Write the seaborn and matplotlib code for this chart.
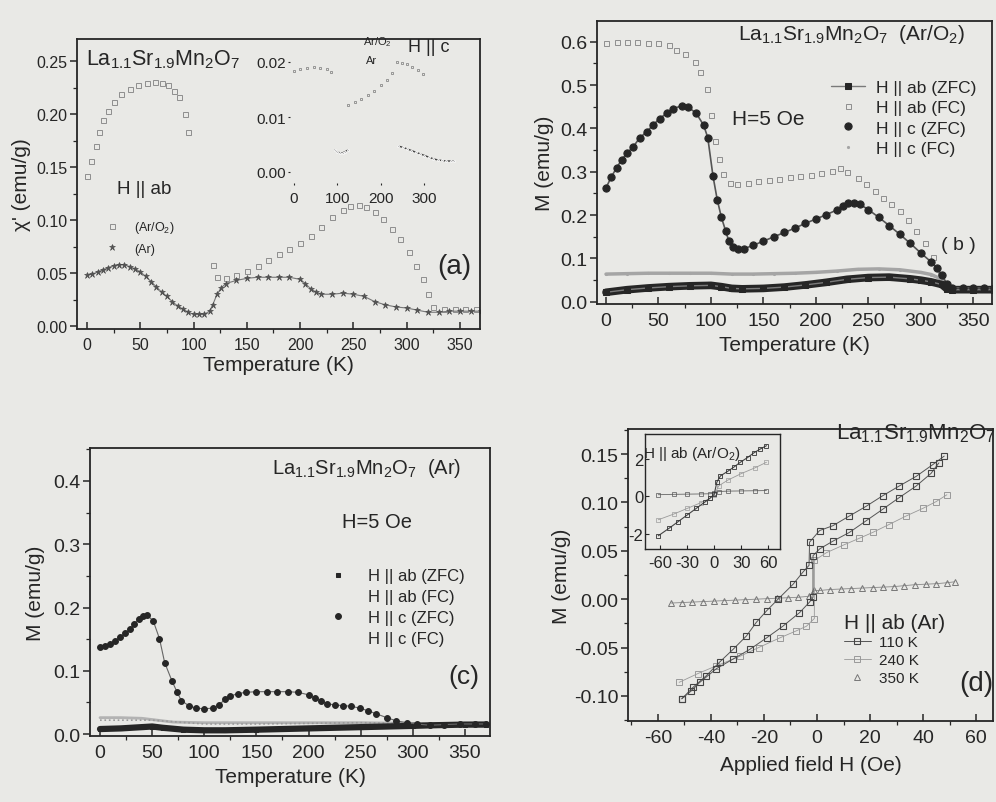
import numpy as np
import matplotlib
matplotlib.use('Agg')
import matplotlib.pyplot as plt
import seaborn as sns
from matplotlib.ticker import MultipleLocator, FormatStrFormatter

sns.set_theme(style='ticks')
plt.rcParams['font.family'] = ['Liberation Sans', 'DejaVu Sans']
plt.rcParams['mathtext.fontset'] = 'custom'
plt.rcParams['mathtext.rm'] = 'Liberation Sans'
plt.rcParams['mathtext.it'] = 'Liberation Sans:italic'
plt.rcParams['axes.unicode_minus'] = False

BG = '#e9e9e6'
INK = '#262626'
LIGHT = '#9c9c9c'
FORM = r'$\mathregular{La_{1.1}Sr_{1.9}Mn_2O_7}$'

# ---------------- panel (a): chi' vs T, H || ab ----------------
Ta_o2 = [0, 4, 8, 11, 15, 20, 25, 32, 40, 48, 56, 64, 70, 76, 82, 86, 92, 95,
         118, 122, 130, 140, 150, 160, 170, 180, 190, 200, 210, 220, 230, 240, 247,
         255, 262, 270, 278, 286, 294, 302, 309, 315, 320, 325, 335, 345, 355, 365]
chi_o2 = [0.142, 0.156, 0.170, 0.183, 0.194, 0.203, 0.211, 0.219, 0.224, 0.227, 0.229, 0.230,
          0.229, 0.227, 0.222, 0.216, 0.200, 0.183,
          0.058, 0.046, 0.045, 0.048, 0.052, 0.057, 0.062, 0.068, 0.073, 0.078, 0.085, 0.093,
          0.103, 0.109, 0.113, 0.114, 0.112, 0.108, 0.101, 0.092, 0.082, 0.070, 0.057, 0.044,
          0.030, 0.018, 0.016, 0.016, 0.016, 0.016]
Ta_ar = [0, 5, 10, 15, 20, 25, 30, 35, 40, 45, 50, 55, 60, 65, 70, 75, 80, 85, 90, 95, 100,
         105, 110, 115, 118, 122, 126, 130, 140, 150, 160, 170, 180, 190, 200, 205, 210, 215,
         220, 230, 240, 250, 260, 270, 280, 290, 300, 310, 320, 330, 340, 350, 360, 370]
chi_ar = [0.048, 0.049, 0.051, 0.053, 0.055, 0.057, 0.058, 0.058, 0.056, 0.054, 0.051, 0.047,
          0.042, 0.037, 0.032, 0.028, 0.023, 0.019, 0.016, 0.013, 0.011, 0.011, 0.011, 0.014,
          0.020, 0.030, 0.036, 0.040, 0.043, 0.045, 0.046, 0.046, 0.046, 0.046, 0.044, 0.040,
          0.035, 0.032, 0.030, 0.030, 0.031, 0.030, 0.028, 0.023, 0.020, 0.018, 0.017, 0.015,
          0.013, 0.013, 0.014, 0.014, 0.014, 0.014]
# inset (a): H || c
Ti_o2 = [0, 15, 30, 45, 60, 75, 85, 125, 140, 155, 170, 185, 200, 213, 225,
         236, 248, 260, 272, 284, 296]
chi_i_o2 = [0.0183, 0.0188, 0.0190, 0.0191, 0.0190, 0.0187, 0.0182, 0.0122, 0.0127, 0.0133,
            0.0140, 0.0148, 0.0158, 0.0168, 0.0180, 0.0200, 0.0199, 0.0196, 0.0191, 0.0186, 0.0178]
Ti_ar_low = [94, 100, 106, 112, 118, 124]
chi_i_ar_low = [0.0040, 0.0036, 0.0035, 0.0035, 0.0037, 0.0040]
Ti_ar_high = [240, 250, 260, 270, 280, 290, 300, 310, 320, 330, 340, 350, 360, 368]
chi_i_ar_high = [0.0047, 0.0045, 0.0042, 0.0039, 0.0036, 0.0033, 0.0030, 0.0027, 0.0024,
                 0.0022, 0.0021, 0.0020, 0.0020, 0.0020]

# ---------------- panel (b): M vs T, Ar/O2 ----------------
Tb_cz = [0, 5, 10, 15, 20, 26, 32, 39, 45, 51, 58, 64, 72, 78, 86, 93, 97, 102, 106, 110, 114,
         117, 121, 126, 132, 140, 150, 160, 170, 180, 190, 200, 210, 220, 226, 231, 236, 242,
         250, 260, 270, 280, 290, 300, 310, 316, 320, 325, 330, 340, 350, 360, 370]
Mb_cz = [0.263, 0.288, 0.309, 0.328, 0.343, 0.358, 0.378, 0.393, 0.408, 0.423, 0.435, 0.446,
         0.452, 0.450, 0.435, 0.408, 0.379, 0.290, 0.236, 0.195, 0.164, 0.141, 0.126, 0.122,
         0.123, 0.130, 0.140, 0.150, 0.160, 0.170, 0.181, 0.191, 0.201, 0.212, 0.220, 0.228,
         0.229, 0.225, 0.213, 0.195, 0.176, 0.156, 0.135, 0.113, 0.092, 0.077, 0.062, 0.042,
         0.033, 0.032, 0.032, 0.032, 0.032]
Tb_af = [0, 10, 20, 30, 40, 50, 60, 67, 75, 85, 90, 96, 100, 104, 108, 112, 118, 125, 135, 145,
         155, 165, 175, 185, 195, 205, 215, 223, 230, 240, 248, 256, 264, 272, 280, 288, 296,
         304, 312, 318, 325, 335, 345, 355, 365]
Mb_af = [0.598, 0.599, 0.599, 0.599, 0.598, 0.597, 0.592, 0.580, 0.572, 0.553, 0.530, 0.490,
         0.430, 0.370, 0.330, 0.294, 0.275, 0.272, 0.275, 0.278, 0.281, 0.284, 0.287, 0.290,
         0.293, 0.297, 0.302, 0.309, 0.300, 0.285, 0.271, 0.256, 0.240, 0.225, 0.210, 0.188,
         0.164, 0.135, 0.103, 0.065, 0.035, 0.033, 0.033, 0.033, 0.033]
Tb_az = [0, 20, 40, 60, 80, 100, 110, 120, 130, 150, 170, 190, 210, 230, 250, 270, 290, 300,
         310, 320, 325, 330, 350, 370]
Mb_az = [0.022, 0.028, 0.032, 0.035, 0.037, 0.038, 0.035, 0.031, 0.030, 0.031, 0.034, 0.039,
         0.045, 0.052, 0.056, 0.057, 0.053, 0.050, 0.046, 0.040, 0.030, 0.028, 0.028, 0.028]
Tb_cf = [0, 20, 40, 60, 80, 100, 120, 140, 160, 180, 200, 220, 240, 260, 280, 300, 310, 320,
         325, 330, 350, 370]
Mb_cf = [0.064, 0.065, 0.066, 0.066, 0.066, 0.066, 0.064, 0.064, 0.065, 0.066, 0.068, 0.071,
         0.075, 0.076, 0.074, 0.068, 0.063, 0.052, 0.038, 0.033, 0.033, 0.033]

# ---------------- panel (c): M vs T, Ar ----------------
Tc_cz = [0, 5, 10, 14, 19, 24, 29, 33, 37, 41, 45, 51, 57, 62, 69, 74, 78, 85, 92, 100, 108,
         114, 120, 125, 132, 140, 150, 160, 170, 180, 190, 200, 206, 212, 218, 225, 233, 241,
         249, 257, 265, 275, 284, 294, 304, 316, 330, 345, 360, 370]
Mc_cz = [0.137, 0.139, 0.142, 0.147, 0.153, 0.159, 0.166, 0.174, 0.182, 0.186, 0.188, 0.179,
         0.151, 0.113, 0.084, 0.066, 0.053, 0.045, 0.041, 0.040, 0.041, 0.046, 0.055, 0.060,
         0.064, 0.066, 0.067, 0.067, 0.067, 0.067, 0.066, 0.062, 0.057, 0.052, 0.048, 0.046,
         0.045, 0.044, 0.041, 0.037, 0.032, 0.026, 0.021, 0.018, 0.016, 0.014, 0.015, 0.016,
         0.016, 0.016]
Tc_az = [0, 20, 40, 50, 60, 80, 100, 120, 150, 200, 250, 300, 320, 350, 370]
Mc_az = [0.008, 0.009, 0.011, 0.012, 0.010, 0.007, 0.006, 0.006, 0.007, 0.009, 0.011, 0.013,
         0.014, 0.015, 0.015]
Tc_af = [0, 20, 40, 55, 70, 100, 150, 200, 250, 300, 320, 350, 370]
Mc_af = [0.026, 0.026, 0.025, 0.022, 0.019, 0.018, 0.018, 0.018, 0.018, 0.017, 0.016, 0.017, 0.018]
Tc_cf = [0, 50, 100, 150, 200, 250, 300, 320, 350, 370]
Mc_cf = [0.022, 0.022, 0.016, 0.016, 0.017, 0.018, 0.017, 0.016, 0.017, 0.018]

# ---------------- panel (d): M vs H ----------------
H110_dn = [48, 43.6, 37.4, 31, 24.8, 18.5, 12.2, 6, 1, -2.8, -3, -5.3, -9, -14.7, -19, -22.9,
           -26.6, -31.7, -36.7, -41.7, -46.7, -51]
M110_dn = [0.148, 0.139, 0.127, 0.117, 0.107, 0.096, 0.086, 0.076, 0.071, 0.059, 0.035, 0.028,
           0.0155, 0.0, -0.012, -0.024, -0.038, -0.052, -0.065, -0.079, -0.091, -0.103]
H110_up = [-51, -47.5, -44.2, -38, -31.7, -25.4, -19, -12.9, -6.6, -2.8, -1.5, -1.5, 1, 6,
           12.2, 18.5, 24.8, 31, 37.4, 43, 46]
M110_up = [-0.103, -0.095, -0.086, -0.072, -0.062, -0.052, -0.040, -0.028, -0.014, -0.003,
           0.002, 0.045, 0.052, 0.060, 0.069, 0.081, 0.093, 0.105, 0.117, 0.130, 0.141]
H240 = [-52, -45, -38, -29, -22, -14, -8, -4, -1, -1, 3.5, 10, 16, 21, 27, 33.6, 40, 45, 49]
M240 = [-0.086, -0.077, -0.069, -0.059, -0.050, -0.040, -0.033, -0.028, -0.020, 0.040, 0.048,
        0.056, 0.063, 0.069, 0.077, 0.086, 0.094, 0.101, 0.108]
H350 = [-55, -51, -47, -43, -39, -35, -31, -27, -23, -19, -15, -11, -7, -3, -1, 1, 5, 9, 13,
        17, 21, 25, 29, 33, 37, 41, 45, 49, 52]
M350 = [-0.004, -0.0035, -0.003, -0.0025, -0.002, -0.0015, -0.001, -0.0005, 0.0, 0.0005, 0.001,
        0.0015, 0.002, 0.003, 0.009, 0.009, 0.010, 0.0105, 0.011, 0.0115, 0.012, 0.0125, 0.013,
        0.014, 0.015, 0.0155, 0.016, 0.017, 0.018]
# inset (d): Ar/O2
Hi_1 = [-62, -50, -40, -30, -20, -10, -5, 0, 3, 7, 15, 22, 29, 37, 44, 51, 58]
Mi_1 = [-2.1, -1.7, -1.35, -1.0, -0.65, -0.3, -0.12, 0.1, 0.75, 1.08, 1.32, 1.55, 1.8, 2.05,
        2.3, 2.5, 2.68]
Hi_2 = [-62, -45, -30, -15, -5, 0, 5, 15, 30, 45, 58]
Mi_2 = [-1.25, -0.95, -0.65, -0.35, -0.12, 0.05, 0.55, 0.85, 1.2, 1.5, 1.8]
Hi_3 = [-62, -45, -30, -15, -5, 0, 5, 15, 30, 45, 58]
Mi_3 = [0.08, 0.10, 0.11, 0.12, 0.13, 0.15, 0.25, 0.27, 0.28, 0.29, 0.30]

W, Hh = 996, 803
fig = plt.figure(figsize=(W / 100, Hh / 100), dpi=100, facecolor=BG)


def fx(x):
    return x / W


def fy(y):
    return 1 - y / Hh


def ftext(x, y, s, size, **kw):
    fig.text(fx(x), fy(y), s, fontsize=size, color=INK, ha=kw.pop('ha', 'center'),
             va=kw.pop('va', 'center'), **kw)


def mk_axes(l, t, r, b):
    ax = fig.add_axes([fx(l), fy(b), (r - l) / W, (b - t) / Hh])
    ax.set_facecolor(BG)
    for s in ax.spines.values():
        s.set_color(INK)
        s.set_linewidth(1.3)
    ax.tick_params(axis='x', direction='in', length=5, width=1.1, colors=INK, pad=6)
    ax.tick_params(axis='y', direction='out', length=5, width=1.1, colors=INK, pad=2)
    ax.tick_params(which='minor', length=3, width=0.9, colors=INK)
    return ax


def plot(ax, x, y, **kw):
    sns.lineplot(x=x, y=y, ax=ax, sort=False, estimator=None, **kw)


# ======== (a) ========
axa = mk_axes(77, 40, 480, 330)
plot(axa, Ta_o2, chi_o2, ls='', marker='s', ms=3.6, mfc='none', mec='#8e8e8e', mew=0.7,
     label=r'(Ar/O$_2$)')
plot(axa, Ta_ar, chi_ar, lw=0.8, color='#777777', marker='*', ms=4.5, mfc='#555555',
     mec='#444444', mew=0.4, label='(Ar)')
axa.set_xlim(-9.4, 368.8)
axa.set_ylim(-0.0028, 0.2708)
axa.xaxis.set_major_locator(MultipleLocator(50))
axa.xaxis.set_minor_locator(MultipleLocator(25))
axa.yaxis.set_major_locator(MultipleLocator(0.05))
axa.yaxis.set_minor_locator(MultipleLocator(0.025))
axa.yaxis.set_major_formatter(FormatStrFormatter('%.2f'))
axa.tick_params(labelsize=11.5)
axa.set_xlabel('Temperature (K)', fontsize=15, color=INK, labelpad=2)
axa.set_ylabel("χ' (emu/g)", fontsize=15, color=INK, labelpad=4)
lega = axa.legend(loc='upper left', bbox_to_anchor=(fx(98), fy(214)),
                  bbox_transform=fig.transFigure, frameon=False, fontsize=9, labelspacing=0.6,
                  handlelength=1.2, handletextpad=1.2, borderpad=0, labelcolor=INK)
for h in lega.legend_handles:
    h.set_linestyle('')
ftext(117, 190, 'H || ab', 13.5, ha='left')
ftext(86, 60, FORM, 15.5, ha='left')
ftext(454, 267, '(a)', 20)

# inset (a)
axai = fig.add_axes([fx(289.6), fy(184), 169.7 / W, 143 / Hh])
axai.set_facecolor('none')
for s in axai.spines.values():
    s.set_visible(False)
plot(axai, Ti_o2, chi_i_o2, ls='', marker='s', ms=1.8, mfc='none', mec='#777777', mew=0.5)
for tx, cy in ((Ti_ar_low, chi_i_ar_low), (Ti_ar_high, chi_i_ar_high)):
    plot(axai, tx, cy, color='#444444', lw=1.0, marker='.', ms=2.5)
axai.set_xlim(-10, 380)
axai.set_ylim(-0.002, 0.024)
axai.set_xticks([0, 100, 200, 300])
axai.set_yticks([0.00, 0.01, 0.02])
axai.yaxis.set_major_formatter(FormatStrFormatter('%.2f'))
axai.tick_params(axis='both', length=1.5, width=0.8, labelsize=11, colors=INK, pad=1)
axai.tick_params(axis='x', pad=4)
ftext(377, 42, r'Ar/O$_2$', 8)
ftext(372, 61, 'Ar', 8)
ftext(429, 48, 'H || c', 13)

# ======== (b) ========
axb = mk_axes(597, 22, 992, 305)
plot(axb, Tb_af, Mb_af, ls='', marker='s', ms=3.6, mfc='none', mec='#8e8e8e', mew=0.7,
     label='H || ab (FC)')
plot(axb, Tb_cf, Mb_cf, lw=2.5, color='#a5a5a5', marker='.', ms=3, mfc='#a5a5a5',
     mec='#a5a5a5', label='H || c (FC)')
plot(axb, Tb_az, Mb_az, lw=5.5, color=INK)
plot(axb, Tb_az, Mb_az, lw=1.0, color='#7a7a7a', marker='s', ms=4.5, mfc=INK, mec=INK,
     label='H || ab (ZFC)')
plot(axb, Tb_cz, Mb_cz, lw=1.2, color='#555555', marker='o', ms=5.2, mfc=INK, mec=INK,
     label='H || c (ZFC)')
axb.set_xlim(-8.6, 368)
axb.set_ylim(-0.005, 0.648)
axb.xaxis.set_major_locator(MultipleLocator(50))
axb.xaxis.set_minor_locator(MultipleLocator(25))
axb.yaxis.set_major_locator(MultipleLocator(0.1))
axb.yaxis.set_minor_locator(MultipleLocator(0.05))
axb.yaxis.set_major_formatter(FormatStrFormatter('%.1f'))
axb.tick_params(labelsize=14)
axb.set_xlabel('Temperature (K)', fontsize=15, color=INK, labelpad=4)
axb.set_ylabel('M (emu/g)', fontsize=15, color=INK, labelpad=4)
hb, lb = axb.get_legend_handles_labels()
order = ['H || ab (ZFC)', 'H || ab (FC)', 'H || c (ZFC)', 'H || c (FC)']
hd = dict(zip(lb, hb))
legb = axb.legend([hd[k] for k in order], order, loc='upper left',
                  bbox_to_anchor=(fx(822), fy(72)), bbox_transform=fig.transFigure,
                  frameon=False, fontsize=12.5, labelspacing=0.3, handlelength=2.0,
                  handletextpad=0.6, borderpad=0, labelcolor=INK)
for h in legb.legend_handles[1:]:
    h.set_linestyle('')
ftext(852, 34, FORM + '  (Ar/O$_2$)', 15)
ftext(768, 120, 'H=5 Oe', 15)
ftext(958, 245, '( b )', 14)

# ======== (c) ========
axc = mk_axes(90, 449, 490, 737)
plot(axc, Tc_af, Mc_af, lw=2.0, color='#b3b3b3', label='H || ab (FC)')
plot(axc, Tc_cf, Mc_cf, lw=1.2, ls=':', color='#9a9a9a', label='H || c (FC)')
plot(axc, Tc_az, Mc_az, lw=4.5, color=INK, marker='s', ms=3, mfc=INK, mec=INK,
     label='H || ab (ZFC)')
plot(axc, Tc_cz, Mc_cz, lw=0.8, color='#666666', marker='o', ms=4.2, mfc=INK, mec=INK,
     label='H || c (ZFC)')
axc.set_xlim(-9.6, 374)
axc.set_ylim(-0.003, 0.452)
axc.xaxis.set_major_locator(MultipleLocator(50))
axc.xaxis.set_minor_locator(MultipleLocator(25))
axc.yaxis.set_major_locator(MultipleLocator(0.1))
axc.yaxis.set_minor_locator(MultipleLocator(0.05))
axc.yaxis.set_major_formatter(FormatStrFormatter('%.1f'))
axc.tick_params(labelsize=14)
axc.set_xlabel('Temperature (K)', fontsize=15, color=INK, labelpad=4)
axc.set_ylabel('M (emu/g)', fontsize=15, color=INK, labelpad=6)
hc, lc = axc.get_legend_handles_labels()
hdc = dict(zip(lc, hc))
legc = axc.legend([hdc[k] for k in order], order, loc='upper left',
                  bbox_to_anchor=(fx(320), fy(561)), bbox_transform=fig.transFigure,
                  frameon=False, fontsize=12, labelspacing=0.35, handlelength=1.2,
                  handletextpad=1.2, borderpad=0, labelcolor=INK)
for h in legc.legend_handles:
    h.set_linestyle('')
ftext(367, 469, FORM + '  (Ar)', 14.5)
ftext(377, 522, 'H=5 Oe', 14.5)
ftext(464, 677, '(c)', 19)

# ======== (d) ========
axd = mk_axes(628, 430, 993, 722)
plot(axd, H350, M350, lw=0.6, color='#888888', marker='^', ms=4, mfc='none', mec='#777777',
     mew=0.7, label='350 K')
plot(axd, H240, M240, lw=0.6, color='#999999', marker='s', ms=4, mfc='none', mec='#999999',
     mew=0.7, label='240 K')
plot(axd, H110_dn, M110_dn, lw=0.7, color='#555555', marker='s', ms=4.5, mfc='none',
     mec='#444444', mew=0.8)
plot(axd, H110_up, M110_up, lw=0.7, color='#555555', marker='s', ms=4.5, mfc='none',
     mec='#444444', mew=0.8, label='110 K')
axd.set_xlim(-71.3, 66.4)
axd.set_ylim(-0.126, 0.176)
axd.xaxis.set_major_locator(MultipleLocator(20))
axd.xaxis.set_minor_locator(MultipleLocator(10))
axd.yaxis.set_major_locator(MultipleLocator(0.05))
axd.yaxis.set_minor_locator(MultipleLocator(0.025))
axd.yaxis.set_major_formatter(FormatStrFormatter('%.2f'))
axd.tick_params(labelsize=14)
axd.set_xlabel('Applied field H (Oe)', fontsize=15, color=INK, labelpad=6)
axd.set_ylabel('M (emu/g)', fontsize=15, color=INK, labelpad=2)
hdd, ldd = axd.get_legend_handles_labels()
dd = dict(zip(ldd, hdd))
od = ['110 K', '240 K', '350 K']
legd = axd.legend([dd[k] for k in od], od, loc='upper left', bbox_to_anchor=(fx(836), fy(606)),
                  bbox_transform=fig.transFigure, frameon=False, fontsize=11,
                  title='H || ab (Ar)', title_fontsize=15, alignment='left',
                  labelspacing=0.25, handlelength=1.8, handletextpad=0.5, borderpad=0,
                  labelcolor=INK)
legd.legend_handles[2].set_linestyle('')
legd.get_title().set_color(INK)
ftext(916, 434, FORM, 16)
ftext(976, 684, '(d)', 20)

# inset (d)
axdi = fig.add_axes([fx(645), fy(550), 135 / W, 115 / Hh])
axdi.set_facecolor(BG)
for s in axdi.spines.values():
    s.set_color(INK)
    s.set_linewidth(1.0)
plot(axdi, Hi_3, Mi_3, lw=0.6, color='#666666', marker='s', ms=2.2, mfc='none', mec='#555555',
     mew=0.5)
plot(axdi, Hi_2, Mi_2, lw=0.6, color='#9a9a9a', marker='s', ms=2.2, mfc='none', mec='#9a9a9a',
     mew=0.5)
plot(axdi, Hi_1, Mi_1, lw=0.8, color='#444444', marker='s', ms=2.6, mfc='none', mec='#333333',
     mew=0.6)
axdi.set_xlim(-76.7, 73)
axdi.set_ylim(-2.8, 3.3)
axdi.set_xticks([-60, -30, 0, 30, 60])
axdi.set_yticks([-2, 0, 2])
axdi.tick_params(axis='x', direction='in', length=3, width=0.8, labelsize=12, colors=INK, pad=4)
axdi.tick_params(axis='y', direction='in', length=3, width=0.8, labelsize=12, colors=INK, pad=1)
ftext(692, 454, r'H || ab (Ar/O$_2$)', 11)

fig.savefig('out.png', dpi=100, facecolor=BG)
